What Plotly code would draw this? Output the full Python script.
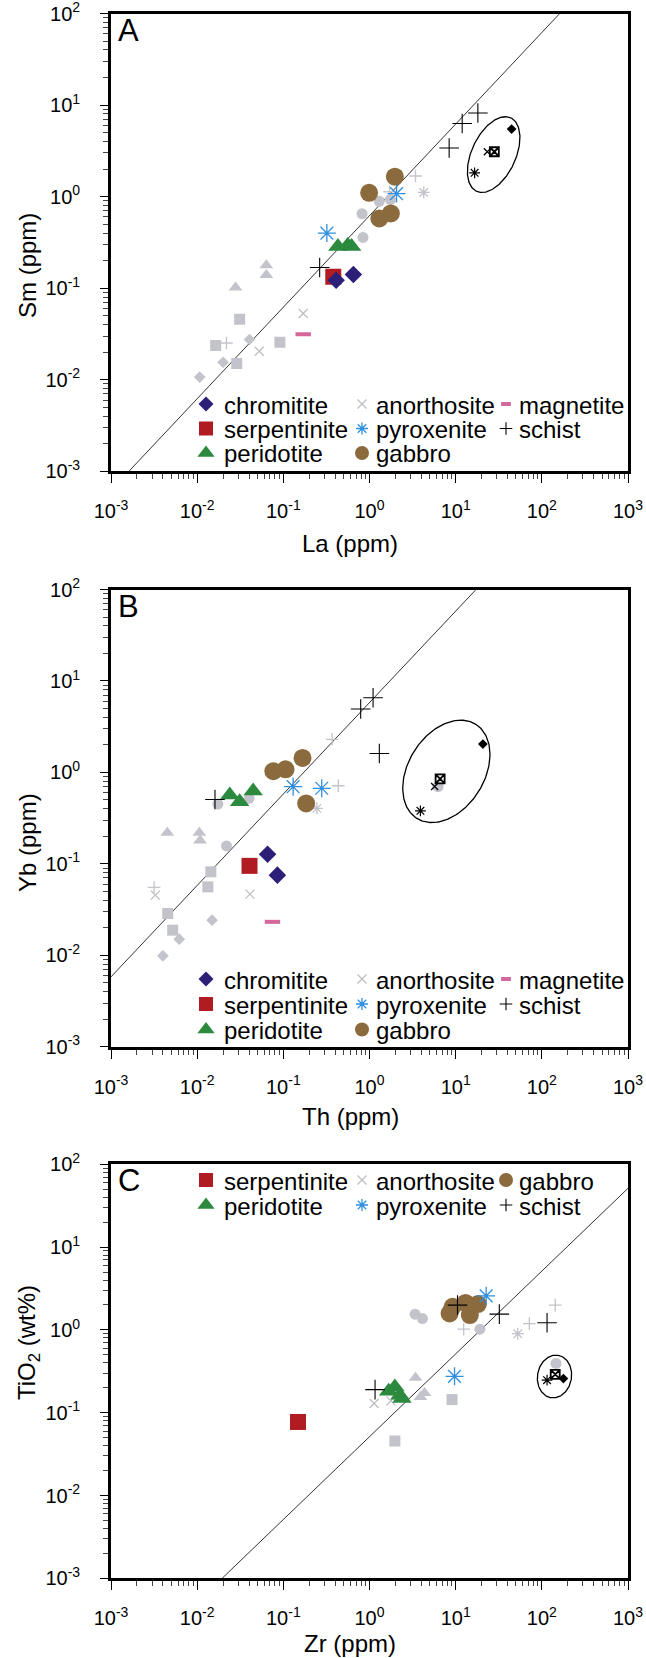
import numpy as np
import plotly.graph_objects as go

# ======================= DATA =======================
# ---- Panel A : La (ppm) vs Sm (ppm) ----
la_chromitite = [0.41, 0.65]
sm_chromitite = [0.122, 0.141]
la_serpentinite = [0.38]
sm_serpentinite = [0.133]
la_peridotite = [0.43, 0.56, 0.62]
sm_peridotite = [0.285, 0.295, 0.285]
la_anorthosite = [0.17, 0.0526]
sm_anorthosite = [0.0529, 0.0205]
la_pyroxenite = [0.32, 2.06]
sm_pyroxenite = [0.40, 1.08]
la_gabbro = [0.99, 1.97, 1.30, 1.77]
sm_gabbro = [1.10, 1.65, 0.577, 0.655]
la_magnetite = [0.17]
sm_magnetite = [0.0314]
la_schist = [18.1, 11.9, 8.4, 0.264]
sm_schist = [8.2, 6.3, 3.4, 0.168]
# literature data (grey)
la_lit_chromitite = [0.0405, 0.020, 0.0107]
sm_lit_chromitite = [0.0275, 0.0155, 0.0107]
la_lit_serpentinite = [0.0311, 0.0164, 0.0288, 0.0912]
sm_lit_serpentinite = [0.0458, 0.0237, 0.0150, 0.0257]
la_lit_peridotite = [0.0635, 0.0635, 0.0279]
sm_lit_peridotite = [0.178, 0.139, 0.102]
la_lit_gabbro = [0.82, 0.84, 1.30, 1.75]
sm_lit_gabbro = [0.65, 0.358, 0.89, 0.93]
la_lit_schist = [3.42, 1.71, 0.0219]
sm_lit_schist = [1.68, 1.13, 0.0252]
la_lit_pyroxenite = [4.26]
sm_lit_pyroxenite = [1.11]
# reference compositions (black, inside the ellipse)
la_ref_diamond = [44.6]
sm_ref_diamond = [5.47]
la_ref_square = [28.1]
sm_ref_square = [3.09]
la_ref_x = [23.3]
sm_ref_x = [3.09]
la_ref_asterisk = [16.6]
sm_ref_asterisk = [1.82]

# ---- Panel B : Th (ppm) vs Yb (ppm) ----
th_chromitite = [0.0656, 0.0853]
yb_chromitite = [0.127, 0.0752]
th_serpentinite = [0.0405]
yb_serpentinite = [0.095]
th_peridotite = [0.0239, 0.0311, 0.0447]
yb_peridotite = [0.565, 0.476, 0.624]
th_anorthosite = [0.00327, 0.041]
yb_anorthosite = [0.0455, 0.0466]
th_pyroxenite = [0.130, 0.279]
yb_pyroxenite = [0.697, 0.67]
th_gabbro = [0.0766, 0.106, 0.167, 0.184]
yb_gabbro = [1.03, 1.08, 1.44, 0.458]
th_magnetite = [0.0748]
yb_magnetite = [0.0232]
th_schist = [0.79, 1.10, 1.30, 0.0161]
yb_schist = [4.93, 6.55, 1.61, 0.506]
th_lit_chromitite = [0.0149, 0.0062, 0.0040]
yb_lit_chromitite = [0.0242, 0.0150, 0.00986]
th_lit_serpentinite = [0.0144, 0.0133, 0.00455, 0.0052]
yb_lit_serpentinite = [0.0818, 0.056, 0.0286, 0.0188]
th_lit_peridotite = [0.0045, 0.0106, 0.0108]
yb_lit_peridotite = [0.218, 0.218, 0.180]
th_lit_gabbro = [0.0174, 0.040, 0.0219, 6.25]
yb_lit_gabbro = [0.45, 0.52, 0.157, 0.697]
th_lit_schist = [0.368, 0.434, 0.00316]
yb_lit_schist = [2.3, 0.714, 0.0552]
th_lit_pyroxenite = [0.245]
yb_lit_pyroxenite = [0.404]
th_ref_diamond = [20.7]
yb_ref_diamond = [2.04]
th_ref_square = [6.6]
yb_ref_square = [0.85]
th_ref_x = [5.7]
yb_ref_x = [0.70]
th_ref_asterisk = [3.9]
yb_ref_asterisk = [0.38]

# ---- Panel C : Zr (ppm) vs TiO2 (wt%) ----
zr_serpentinite = [0.148]
ti_serpentinite = [0.0773]
zr_peridotite = [1.67, 1.97, 2.25, 2.38]
ti_peridotite = [0.181, 0.205, 0.162, 0.148]
zr_anorthosite = [1.13, 1.77]
ti_anorthosite = [0.129, 0.139]
zr_pyroxenite = [22.6, 9.7]
ti_pyroxenite = [2.58, 0.275]
zr_gabbro = [8.5, 9.2, 13.0, 18.1, 14.6]
ti_gabbro = [1.58, 1.90, 2.12, 2.05, 1.51]
zr_schist = [10.5, 32.1, 115, 1.16]
ti_schist = [1.99, 1.55, 1.22, 0.19]
zr_lit_serpentinite = [9.08, 1.97]
ti_lit_serpentinite = [0.144, 0.0455]
zr_lit_peridotite = [3.42, 4.35, 3.9]
ti_lit_peridotite = [0.265, 0.173, 0.155]
zr_lit_gabbro = [3.38, 4.12, 19.1, 146]
ti_lit_gabbro = [1.55, 1.37, 1.02, 0.393]
zr_lit_schist = [12.4, 71.6, 143]
ti_lit_schist = [1.02, 1.19, 1.99]
zr_lit_pyroxenite = [52.6]
ti_lit_pyroxenite = [0.90]
zr_ref_diamond = [178]
ti_ref_diamond = [0.258]
zr_ref_square = [143]
ti_ref_square = [0.291]
zr_ref_asterisk = [115]
ti_ref_asterisk = [0.247]

# reference (chondritic) ratio lines
sm_la_ratio = 0.62
yb_th_ratio = 5.8
tio2_zr_ratio = 0.0513

# axis ticks
decades = [1e-3, 1e-2, 1e-1, 1e0, 1e1, 1e2, 1e3]
decade_text = ["10<sup>-3</sup>", "10<sup>-2</sup>", "10<sup>-1</sup>", "10<sup>0</sup>",
               "10<sup>1</sup>", "10<sup>2</sup>", "10<sup>3</sup>"]

# ======================= STYLE / LAYOUT =======================
W, H = 646, 1658
FONT = "Liberation Sans, Arial, Helvetica, sans-serif"
X_PX = (111.0, 628.0)
PANEL_PX = {"A": (13.5, 471.3), "B": (589.5, 1046.7), "C": (1164.3, 1578.3)}
X_RANGE = (-3, 3)
Y_RANGE = (-3, 2)

C_CHR = "#2c1f78"
C_SER = "#b11c22"
C_PER = "#2b8a3e"
C_ANO = "#bdbdc6"
C_PYX = "#2f8fe0"
C_GAB = "#8b6b3d"
C_MAG = "#d4679c"
C_GREY = "#c3c3cb"

STYLES = {
    "chromitite": dict(symbol="diamond", size=13.5, color=C_CHR, line=dict(width=0)),
    "serpentinite": dict(symbol="square", size=16, color=C_SER, line=dict(width=0)),
    "peridotite": dict(symbol="triangle-up", size=17, color=C_PER, line=dict(width=0)),
    "anorthosite": dict(symbol="x-thin", size=9, color=C_ANO, line=dict(color=C_ANO, width=1.3)),
    "pyroxenite": dict(symbol="asterisk", size=15, color=C_PYX, line=dict(color=C_PYX, width=1.3)),
    "gabbro": dict(symbol="circle", size=18, color=C_GAB, line=dict(width=0)),
    "magnetite": dict(symbol="line-ew", size=11, color=C_MAG, line=dict(color=C_MAG, width=4)),
    "schist": dict(symbol="cross-thin", size=14, color="black", line=dict(color="black", width=1.1)),
    "lit_chromitite": dict(symbol="diamond", size=9, color=C_GREY, line=dict(width=0)),
    "lit_serpentinite": dict(symbol="square", size=11, color=C_GREY, line=dict(width=0)),
    "lit_peridotite": dict(symbol="triangle-up", size=12, color=C_GREY, line=dict(width=0)),
    "lit_gabbro": dict(symbol="circle", size=11, color=C_GREY, line=dict(width=0)),
    "lit_schist": dict(symbol="cross-thin", size=9, color=C_GREY, line=dict(color=C_GREY, width=1.3)),
    "lit_pyroxenite": dict(symbol="asterisk", size=10, color=C_GREY, line=dict(color=C_GREY, width=1.3)),
    "ref_diamond": dict(symbol="diamond", size=7.5, color="black", line=dict(width=0)),
    "ref_square": dict(symbol="square-x-open", size=9, color="black", line=dict(color="black", width=1.8)),
    "ref_x": dict(symbol="x-thin", size=7, color="black", line=dict(color="black", width=1.3)),
    "ref_asterisk": dict(symbol="asterisk", size=9, color="black", line=dict(color="black", width=1.2)),
}

LEGEND_SIZES = {"chromitite": 11.5, "serpentinite": 14, "peridotite": 15, "anorthosite": 9,
                "pyroxenite": 10, "gabbro": 14, "magnetite": 7, "schist": 9}

# ellipse parameters (centre in log units, semi-axes in px, angle in deg)
ELLIPSES = {
    "A": dict(cx=1.441, cy=0.459, a=40.5, b=22.0, angle=65),
    "B": dict(cx=0.892, cy=0.011, a=55.5, b=38.0, angle=58),
    "C": dict(cx=2.147, cy=-0.563, a=21.5, b=17.0, angle=80),
}

LEG_MARKER_X = [206, 362, 506]
LEG_TEXT_X = [222, 374, 517]
LEG_ROWS = {"A": [404, 428.5, 453], "B": [979, 1004, 1029.5], "C": [1180, 1205]}
legend_ab = [["chromitite", "serpentinite", "peridotite"],
             ["anorthosite", "pyroxenite", "gabbro"],
             ["magnetite", "schist"]]
legend_c = [["serpentinite", "peridotite"],
            ["anorthosite", "pyroxenite"],
            ["gabbro", "schist"]]

# ======================= FIGURE =======================
fig = go.Figure()

panels = {
    "A": dict(ax="", ratio=sm_la_ratio, series=[
        ("lit_chromitite", la_lit_chromitite, sm_lit_chromitite),
        ("lit_serpentinite", la_lit_serpentinite, sm_lit_serpentinite),
        ("lit_peridotite", la_lit_peridotite, sm_lit_peridotite),
        ("lit_gabbro", la_lit_gabbro, sm_lit_gabbro),
        ("lit_schist", la_lit_schist, sm_lit_schist),
        ("lit_pyroxenite", la_lit_pyroxenite, sm_lit_pyroxenite),
        ("anorthosite", la_anorthosite, sm_anorthosite),
        ("magnetite", la_magnetite, sm_magnetite),
        ("gabbro", la_gabbro, sm_gabbro),
        ("peridotite", la_peridotite, sm_peridotite),
        ("serpentinite", la_serpentinite, sm_serpentinite),
        ("chromitite", la_chromitite, sm_chromitite),
        ("pyroxenite", la_pyroxenite, sm_pyroxenite),
        ("schist", la_schist, sm_schist),
        ("ref_square", la_ref_square, sm_ref_square),
        ("ref_x", la_ref_x, sm_ref_x),
        ("ref_diamond", la_ref_diamond, sm_ref_diamond),
        ("ref_asterisk", la_ref_asterisk, sm_ref_asterisk),
    ]),
    "B": dict(ax="2", ratio=yb_th_ratio, series=[
        ("lit_chromitite", th_lit_chromitite, yb_lit_chromitite),
        ("lit_serpentinite", th_lit_serpentinite, yb_lit_serpentinite),
        ("lit_peridotite", th_lit_peridotite, yb_lit_peridotite),
        ("lit_gabbro", th_lit_gabbro, yb_lit_gabbro),
        ("lit_schist", th_lit_schist, yb_lit_schist),
        ("lit_pyroxenite", th_lit_pyroxenite, yb_lit_pyroxenite),
        ("anorthosite", th_anorthosite, yb_anorthosite),
        ("magnetite", th_magnetite, yb_magnetite),
        ("gabbro", th_gabbro, yb_gabbro),
        ("peridotite", th_peridotite, yb_peridotite),
        ("serpentinite", th_serpentinite, yb_serpentinite),
        ("chromitite", th_chromitite, yb_chromitite),
        ("pyroxenite", th_pyroxenite, yb_pyroxenite),
        ("schist", th_schist, yb_schist),
        ("ref_x", th_ref_x, yb_ref_x),
        ("ref_square", th_ref_square, yb_ref_square),
        ("ref_diamond", th_ref_diamond, yb_ref_diamond),
        ("ref_asterisk", th_ref_asterisk, yb_ref_asterisk),
    ]),
    "C": dict(ax="3", ratio=tio2_zr_ratio, series=[
        ("lit_serpentinite", zr_lit_serpentinite, ti_lit_serpentinite),
        ("lit_peridotite", zr_lit_peridotite, ti_lit_peridotite),
        ("lit_gabbro", zr_lit_gabbro, ti_lit_gabbro),
        ("lit_schist", zr_lit_schist, ti_lit_schist),
        ("lit_pyroxenite", zr_lit_pyroxenite, ti_lit_pyroxenite),
        ("anorthosite", zr_anorthosite, ti_anorthosite),
        ("serpentinite", zr_serpentinite, ti_serpentinite),
        ("gabbro", zr_gabbro, ti_gabbro),
        ("peridotite", zr_peridotite, ti_peridotite),
        ("pyroxenite", zr_pyroxenite, ti_pyroxenite),
        ("schist", zr_schist, ti_schist),
        ("ref_square", zr_ref_square, ti_ref_square),
        ("ref_diamond", zr_ref_diamond, ti_ref_diamond),
        ("ref_asterisk", zr_ref_asterisk, ti_ref_asterisk),
    ]),
}

px_per_dec_x = (X_PX[1] - X_PX[0]) / (X_RANGE[1] - X_RANGE[0])

for key, p in panels.items():
    xa, ya = "x" + p["ax"], "y" + p["ax"]
    # chondritic ratio line
    lx = np.array([10.0 ** X_RANGE[0], 10.0 ** X_RANGE[1]])
    fig.add_trace(go.Scatter(x=lx, y=lx * p["ratio"], mode="lines", xaxis=xa, yaxis=ya,
                             line=dict(color="black", width=0.8), showlegend=False,
                             hoverinfo="skip"))
    for name, xs, ys in p["series"]:
        fig.add_trace(go.Scatter(x=xs, y=ys, mode="markers", xaxis=xa, yaxis=ya,
                                 marker=STYLES[name], name=name, showlegend=False))
    # ellipse around the reference compositions
    top, bot = PANEL_PX[key]
    px_per_dec_y = (bot - top) / (Y_RANGE[1] - Y_RANGE[0])
    e = ELLIPSES[key]
    t = np.linspace(0, 2 * np.pi, 200)
    th = np.deg2rad(e["angle"])
    dxp = e["a"] * np.cos(t) * np.cos(th) - e["b"] * np.sin(t) * np.sin(th)
    dyp = e["a"] * np.cos(t) * np.sin(th) + e["b"] * np.sin(t) * np.cos(th)
    fig.add_trace(go.Scatter(x=10 ** (e["cx"] + dxp / px_per_dec_x),
                             y=10 ** (e["cy"] + dyp / px_per_dec_y),
                             mode="lines", xaxis=xa, yaxis=ya, showlegend=False,
                             line=dict(color="black", width=1.3), hoverinfo="skip"))

# -------- axes --------
def px2paper_y(py):
    return 1 - py / H

xdom = [X_PX[0] / W, X_PX[1] / W]
axis_common = dict(type="log", showgrid=False, zeroline=False, showline=True,
                   linecolor="black", linewidth=2.8, mirror=True, automargin=False,
                   ticks="outside", tickwidth=1.2, tickcolor="black",
                   tickmode="array", tickvals=decades, ticktext=decade_text,
                   ticklabeloverflow="allow",
                   tickfont=dict(family=FONT, size=20, color="black"),
                   minor=dict(ticks="outside", ticklen=5, tickwidth=1, tickcolor="#444",
                              dtick="D1", showgrid=False),
                   fixedrange=True)

layout_axes = {}
for key, p in panels.items():
    top, bot = PANEL_PX[key]
    sfx = p["ax"]
    layout_axes["xaxis" + sfx] = dict(axis_common, domain=xdom, range=list(X_RANGE),
                                      anchor="y" + sfx, ticklen=9, ticklabelstandoff=11)
    layout_axes["yaxis" + sfx] = dict(axis_common, domain=[px2paper_y(bot), px2paper_y(top)],
                                      range=list(Y_RANGE), anchor="x" + sfx, ticklen=8,
                                      ticklabelstandoff=16)

# helper axis in pixel units for the hand-made legends
layout_axes["xaxis4"] = dict(domain=[0, 1], range=[0, W], visible=False, anchor="y4",
                             fixedrange=True, automargin=False)
layout_axes["yaxis4"] = dict(domain=[0, 1], range=[H, 0], visible=False, anchor="x4",
                             fixedrange=True, automargin=False)

annotations = []
for key, cols in (("A", legend_ab), ("B", legend_ab), ("C", legend_c)):
    rows = LEG_ROWS[key]
    for ci, col in enumerate(cols):
        for ri, name in enumerate(col):
            st = dict(STYLES[name])
            st["size"] = LEGEND_SIZES[name]
            fig.add_trace(go.Scatter(x=[LEG_MARKER_X[ci]], y=[rows[ri]], mode="markers",
                                     xaxis="x4", yaxis="y4", marker=st, showlegend=False,
                                     hoverinfo="skip"))
            annotations.append(dict(x=LEG_TEXT_X[ci] / W, y=px2paper_y(rows[ri] + 1),
                                    xref="paper", yref="paper", text=name, showarrow=False,
                                    xanchor="left", yanchor="middle",
                                    font=dict(family=FONT, size=24, color="black")))

# panel letters
for letter, yc in (("A", 31), ("B", 606), ("C", 1180.5)):
    annotations.append(dict(x=116 / W, y=px2paper_y(yc), xref="paper", yref="paper",
                            text=letter, showarrow=False, xanchor="left", yanchor="middle",
                            font=dict(family=FONT, size=31, color="black")))

# axis titles
xtitles = [("La (ppm)", 543), ("Th (ppm)", 1116), ("Zr (ppm)", 1643)]
ytitles = [("Sm (ppm)", 266), ("Yb (ppm)", 843), ("TiO<sub>2</sub> (wt%)", 1343)]
for txt, yc in xtitles:
    annotations.append(dict(x=350 / W, y=px2paper_y(yc), xref="paper", yref="paper",
                            text=txt, showarrow=False, xanchor="center", yanchor="middle",
                            font=dict(family=FONT, size=24, color="black")))
for txt, yc in ytitles:
    annotations.append(dict(x=28 / W, y=px2paper_y(yc), xref="paper", yref="paper",
                            text=txt, showarrow=False, xanchor="center", yanchor="middle",
                            textangle=-90, font=dict(family=FONT, size=24, color="black")))

fig.update_layout(
    template="none",
    width=W, height=H, autosize=False,
    margin=dict(l=0, r=0, t=0, b=0, pad=0),
    paper_bgcolor="white", plot_bgcolor="rgba(0,0,0,0)",
    showlegend=False, annotations=annotations,
    font=dict(family=FONT, color="black"),
    **layout_axes,
)

fig.write_html("out.html")
